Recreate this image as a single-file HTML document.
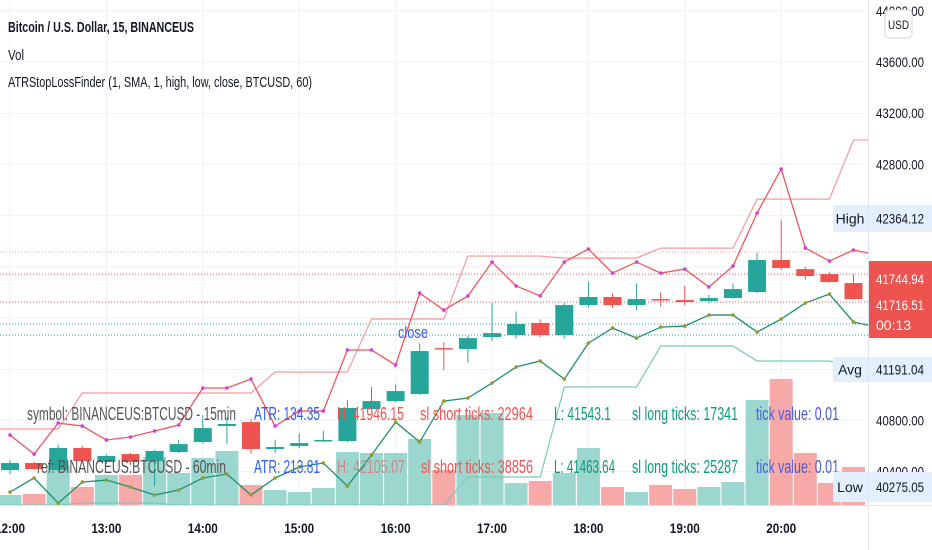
<!DOCTYPE html>
<html><head><meta charset="utf-8"><style>
html,body{margin:0;padding:0;background:#fff;width:932px;height:550px;overflow:hidden;font-family:"Liberation Sans",sans-serif}
svg{display:block}
</style></head><body>
<svg id="chart" width="932" height="550" viewBox="0 0 932 550" xmlns="http://www.w3.org/2000/svg"></svg>
<script>
const categories=["11:45","12:00","12:15","12:30","12:45","13:00","13:15","13:30","13:45","14:00","14:15","14:30","14:45","15:00","15:15","15:30","15:45","16:00","16:15","16:30","16:45","17:00","17:15","17:30","17:45","18:00","18:15","18:30","18:45","19:00","19:15","19:30","19:45","20:00","20:15","20:30"];
const opens=[40412,40467,40412,40584,40475,40537,40482,40553,40631,40756,40787,40576,40600,40639,40639,40889,40951,41006,41365,41357,41451,41467,41561,41467,41701,41764,41701,41748,41740,41732,41756,41803,42053,41982,41943,41873];
const highs=[40490,40475,40610,40600,40535,40545,40570,40650,40840,40826,40810,40650,40700,40720,40960,41060,41080,41400,41412,41460,41717,41650,41590,41720,41881,41790,41870,41800,41850,41780,41870,42110,42365,42000,41960,41940];
const lows=[40380,40412,40400,40475,40460,40470,40287,40545,40620,40615,40540,40545,40585,40630,40630,40880,40940,41000,41193,41250,41420,41440,41450,41440,41680,41680,41660,41690,41700,41715,41750,41795,41975,41900,41875,41745];
const closes=[40467,40420,40584,40482,40522,40475,40561,40615,40740,40772,40576,40592,40623,40647,40897,40951,41029,41342,41357,41443,41482,41553,41467,41701,41764,41701,41748,41740,41725,41756,41826,42053,41990,41928,41881,41748];
const volumes=[10,11,40,18,30,30,48,32,47,54,20,15,13,17,53,52,52,66,35,90,92,22,24,32,57,18,13,20,16,18,23,105,126,52,22,38];
const highLine=[40686,40537,40779,40756,40647,40670,40717,40764,41053,41053,41123,40756,40873,40873,41350,41350,41232,41795,41662,41772,42037,41850,41772,42037,42139,41951,42037,41951,41982,41842,42006,42420,42764,42147,42045,42131];
const lowLine=[40240,40350,40154,40318,40334,40279,40217,40256,40350,40381,40217,40350,40436,40467,40287,40529,40787,40631,40951,40975,41092,41217,41264,41123,41404,41521,41443,41529,41537,41623,41623,41490,41592,41717,41787,41568];
const highStep=[40733,40733,40733,41014,41014,41014,41014,41014,41014,41014,41014,41178,41178,41178,41178,41592,41592,41592,41592,42084,42084,42084,42084,42068,42068,42068,42068,42146,42146,42146,42146,42529,42529,42529,42529,42990];
const lowStep=[40138,40138,40138,40154,40154,40154,40154,40138,40138,40138,40138,40138,40138,40138,40138,40138,40138,40138,40138,40358,40358,40358,40358,41061,41061,41061,41061,41381,41381,41381,41381,41264,41264,41264,41264,41217];
const priceTicks=[44000,43600,43200,42800,40800,40400];
const timeLabels=["12:00","13:00","14:00","15:00","16:00","17:00","18:00","19:00","20:00"];
const timeLabelIdx=[0,4,8,12,16,20,24,28,32];
const hLines=[42115,41943,41725,41553,41467];
const hLineColors=["#f4a0a0","#ef5350","#ef5350","#26a69a","#26a69a"];

const NS="http://www.w3.org/2000/svg";
const svg=document.getElementById('chart');
const X=i=>10+i*24.1;
const Y=p=>62+(43600-p)*0.128;
const VB=505, VS=1;
function el(tag,attrs,parent){const e=document.createElementNS(NS,tag);for(const k in attrs)e.setAttribute(k,attrs[k]);(parent||svg).appendChild(e);return e;}

const grid=el('g',{});


[44000,43600,43200,42800,42400,42000,41600,41200,40800,40400].forEach(p=>{el('line',{x1:0,x2:868,y1:Y(p),y2:Y(p),stroke:'#eef1f7','stroke-width':1},grid);});
timeLabelIdx.forEach(i=>{el('line',{x1:X(i),x2:X(i),y1:0,y2:505,stroke:'#eef1f7','stroke-width':1},grid);});

const vg=el('g',{});


volumes.forEach((v,i)=>{
  const r=el('rect',{x:X(i)-11.5,y:VB-v*VS,width:23,height:v*VS,fill:closes[i]>=opens[i]?'#9cd7cf':'#f7a9a7'},vg);
  
  
});

hLines.forEach((p,k)=>{
  const l=el('line',{x1:0,x2:868,y1:Y(p),y2:Y(p),stroke:hLineColors[k],'stroke-width':1,'stroke-dasharray':'1 2'});
  
  
});

function stepPath(arr,color,name){
  let d='M0 '+Y(arr[0]);arr.forEach((v,i)=>{d+=' L'+X(i)+' '+Y(v);});d+=' L868 '+Y(arr[arr.length-1]);
  const p=el('path',{d:d,fill:'none',stroke:color,'stroke-width':1.2});
  
  
}
stepPath(highStep,'#f59a9a','htf-high-line');
stepPath(lowStep,'#7cc7b8','htf-low-line');

function dotLine(arr,color,dot,name){
  let d='';arr.forEach((v,i)=>{d+=(i?' L':'M')+X(i)+' '+Y(v);});d+=' L868 '+(Y(arr[arr.length-1])+3);
  const p=el('path',{d:d,fill:'none',stroke:color,'stroke-width':1.3});
  
  
  arr.forEach((v,i)=>{const c=el('circle',{cx:X(i),cy:Y(v),r:1.8,fill:dot});
    
    });
}
dotLine(highLine,'#f0565f','#d63ce0','stop-short-line');
dotLine(lowLine,'#1e9070','#9a9a20','stop-long-line');

const cg=el('g',{});


opens.forEach((o,i)=>{
  const c=closes[i],col=c>=o?'#26a69a':'#ef5350',x=X(i);
  el('line',{x1:x,x2:x,y1:Y(highs[i]),y2:Y(lows[i]),stroke:col,'stroke-width':1},cg);
  const top=Y(Math.max(o,c)),h=Math.max(1.5,Y(Math.min(o,c))-top);
  const r=el('rect',{x:x-9,y:top,width:18,height:h,fill:col},cg);
  
  
});

function txt(s,x,y,attrs,name,len){
  const t=el('text',Object.assign({x:x,y:y,'font-family':'Liberation Sans, sans-serif'},attrs));
  t.textContent=s;
  if(len){t.setAttribute('textLength',len);t.setAttribute('lengthAdjust','spacingAndGlyphs');}
  
  
  return t;
}
txt('close',398,338,{'font-size':17,fill:'#2f5ff0'},'close-label',30);

const rows=[
 [['symbol: BINANCEUS:BTCUSD - 15min',27,209,'#555'],['ATR: 134.35',254,66,'#2f5ff0'],['H: 41946.15',337,67,'#ef5350'],['sl short ticks: 22964',420,113,'#ef5350'],['L: 41543.1',554,57,'#0e9b7d'],['sl long ticks: 17341',632,106,'#0e9b7d'],['tick value: 0.01',756,83,'#4b5ae6']],
 [['ref: BINANCEUS:BTCUSD - 60min',37,189,'#555'],['ATR: 213.81',254,66,'#2f5ff0'],['H: 42105.07',337,68,'#c88a8c'],['sl short ticks: 38856',421,112,'#ef5350'],['L: 41463.64',554,61,'#0e9b7d'],['sl long ticks: 25287',632,106,'#0e9b7d'],['tick value: 0.01',756,83,'#4b5ae6']]
];
rows.forEach((r,ri)=>r.forEach(c=>txt(c[0],c[1],ri?473:420,{'font-size':18,fill:c[3]},'table-cell',c[2])));

txt('Bitcoin / U.S. Dollar, 15, BINANCEUS',8,32,{'font-size':15,'font-weight':'bold',fill:'#131722'},'chart-title',186);
txt('Vol',8,60,{'font-size':15,fill:'#131722'},'volume-legend',16);
txt('ATRStopLossFinder (1, SMA, 1, high, low, close, BTCUSD, 60)',8,87,{'font-size':15,fill:'#131722'},'indicator-legend',304);

el('line',{x1:868.5,x2:868.5,y1:0,y2:550,stroke:'#e0e3eb'});
el('line',{x1:0,x2:932,y1:505.5,y2:505.5,stroke:'#e0e3eb'});
priceTicks.forEach(p=>txt(p.toFixed(2),876,Y(p)+5,{'font-size':14,fill:'#131722'},'y-tick-label',48));
timeLabelIdx.forEach((i,k)=>txt(timeLabels[k],X(i),533,{'font-size':14,'font-weight':'bold',fill:'#131722','text-anchor':'middle'},'x-tick-label',30));

function tag(label,val,y1,y2,name){
  el('rect',{x:833,y:y1,width:35,height:y2-y1,fill:'#e3effd'});
  el('rect',{x:869,y:y1,width:63,height:y2-y1,fill:'#e3effd'});
  txt(label,850,(y1+y2)/2+5,{'font-size':14,fill:'#131722','text-anchor':'middle'},name+'-tag');
  txt(val,876,(y1+y2)/2+5,{'font-size':14,fill:'#131722'},name+'-value',48);
}
tag('High','42364.12',205,232,'high');
tag('Avg','41191.04',357,382,'avg');
tag('Low','40275.05',472,502,'low');
el('rect',{x:869,y:261,width:63,height:77,fill:'#ef5350'});
txt('41744.94',876,284,{'font-size':14,fill:'#fff'},'last-price',48);
txt('41716.51',876,310,{'font-size':14,fill:'#fff'},'prev-price',48);
txt('00:13',876,330,{'font-size':14,fill:'#fff'},'countdown');
const usd=el('rect',{x:885,y:10,width:27,height:28,rx:4,fill:'#fff',stroke:'#d1d4dc'});


txt('USD',888,29,{'font-size':12,fill:'#131722'},'currency-label',21);
</script>
</body></html>
